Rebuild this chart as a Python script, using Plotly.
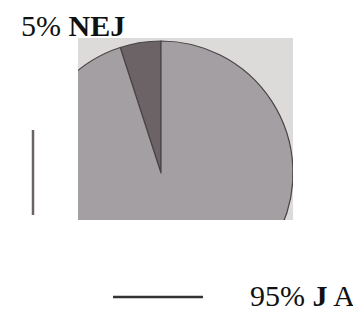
import plotly.graph_objects as go

labels = ["NEJ", "JA"]
values = [5, 95]
colors = ["#6c6366", "#a49fa2"]

W, H = 361, 311
OFF = 8  # page body margin

def px(x):
    return (x - OFF) / W

def py(y):
    return 1 - (y - OFF) / H

# pie placement (pixels): center and radius
cx, cy, r = 161, 173, 132

# start the first slice so it ends at 12 o'clock
start = -360 * values[0] / sum(values)

fig = go.Figure(go.Pie(
    labels=labels, values=values, sort=False, direction="clockwise",
    rotation=start, textinfo="none", hoverinfo="label+percent",
    marker=dict(colors=colors, line=dict(color="#4a4446", width=1.2)),
    domain=dict(x=[px(cx - r), px(cx + r)], y=[py(cy + r), py(cy - r)]),
    showlegend=False,
))

# photo rectangle bounds
L, T, R, B = 78, 38, 293, 220

shapes = [
    dict(type="rect", xref="paper", yref="paper", layer="below",
         x0=px(L), x1=px(R), y0=py(B), y1=py(T),
         fillcolor="#dddbd9", line=dict(width=0)),
    # masks
    dict(type="rect", xref="paper", yref="paper", layer="above",
         x0=0, x1=px(L), y0=0, y1=1, fillcolor="white", line=dict(width=0)),
    dict(type="rect", xref="paper", yref="paper", layer="above",
         x0=px(R), x1=1, y0=0, y1=1, fillcolor="white", line=dict(width=0)),
    dict(type="rect", xref="paper", yref="paper", layer="above",
         x0=0, x1=1, y0=0, y1=py(B), fillcolor="white", line=dict(width=0)),
    dict(type="rect", xref="paper", yref="paper", layer="above",
         x0=0, x1=1, y0=py(T), y1=1, fillcolor="white", line=dict(width=0)),
    # leader lines
    dict(type="line", xref="paper", yref="paper", layer="above",
         x0=px(33), x1=px(33), y0=py(130), y1=py(215),
         line=dict(color="#6a6365", width=2.5)),
    dict(type="line", xref="paper", yref="paper", layer="above",
         x0=px(113), x1=px(203), y0=py(297), y1=py(297),
         line=dict(color="#333333", width=2.5)),
]

font = dict(family="Liberation Serif, Times New Roman, serif", size=30, color="#111111")
annotations = [
    dict(text="5% <b>NEJ</b>", xref="paper", yref="paper", x=px(19), y=py(26),
         xanchor="left", yanchor="middle", showarrow=False, font=font),
    dict(text="95% <b>J</b> A", xref="paper", yref="paper", x=px(248), y=py(295),
         xanchor="left", yanchor="middle", showarrow=False, font=font),
]

fig.update_layout(
    width=W, height=H, margin=dict(l=0, r=0, t=0, b=0),
    paper_bgcolor="white", plot_bgcolor="white",
    shapes=shapes, annotations=annotations,
)

fig.write_html("out.html")
